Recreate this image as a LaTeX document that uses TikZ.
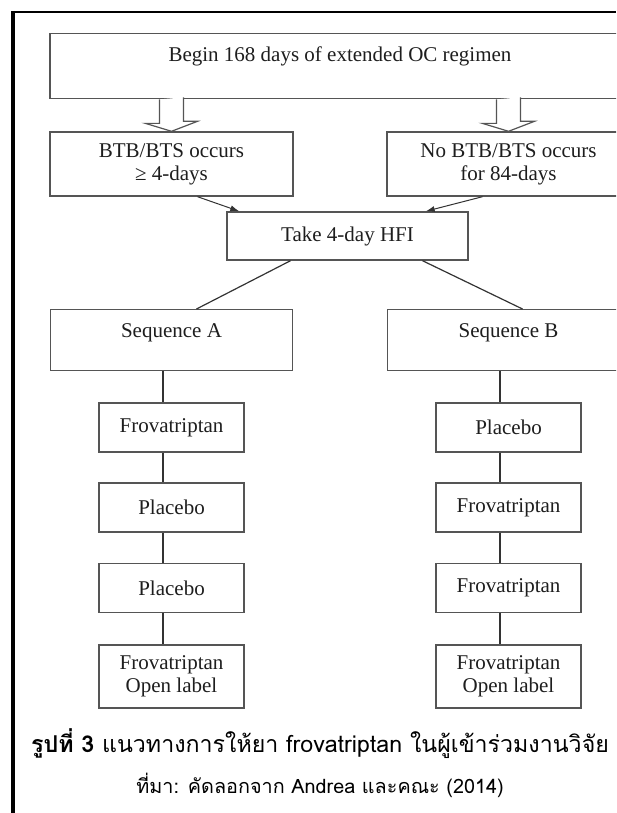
\documentclass[tikz,border=0pt]{standalone}
\usepackage{fontspec}
\setmainfont{Liberation Serif}
\newfontfamily\thaifont[Script=Thai]{Loma}
\usetikzlibrary{arrows.meta,calc}
\definecolor{boxstroke}{HTML}{555555}
\definecolor{boxtext}{HTML}{1E1E1E}
\definecolor{flowstroke}{HTML}{333333}
\definecolor{framestroke}{HTML}{000000}
\tikzset{
  stage/.style={
    rectangle,
    draw=boxstroke,
    fill=white,
    line width=1.4pt,
    inner sep=0pt,
    align=center,
    text=boxtext,
    font=\fontsize{21}{23}\selectfont
  },
  widestage/.style={
    stage,
    anchor=north,
    text height=28pt
  },
  drug/.style={
    stage,
    minimum width=145pt,
    minimum height=49pt
  },
  flow/.style={
    -{Latex[length=9pt,width=6pt]},
    draw=flowstroke,
    line width=1pt
  },
  link/.style={
    draw=flowstroke,
    line width=1.2pt
  },
  blockarrow/.style={
    draw=boxstroke,
    fill=white,
    line width=1.2pt
  },
  caption/.style={font=\thaifont\fontsize{23.2}{27}\selectfont},
  source/.style={font=\thaifont\fontsize{19.8}{23}\selectfont}
}

\begin{document}
\begin{tikzpicture}[x=1pt,y=-1pt]
  \useasboundingbox (0,0) rectangle (616,813);
  \clip (0,0) rectangle (616,813);

  % Page frame.
  \draw[framestroke,line width=4pt] (13,11) -- (13,813);
  \draw[framestroke,line width=2pt] (11,12.5) -- (616,12.5);

  \node[widestage,minimum width=580pt,text depth=37pt] (begin) at (340,33)
    {Begin 168 days of extended OC regimen};
  \node[stage,minimum width=243pt,minimum height=64pt] (btbA) at (171.5,164)
    {BTB/BTS occurs\\≥ 4-days};
  \node[stage,minimum width=243pt,minimum height=64pt] (btbB) at (508.5,164)
    {No BTB/BTS occurs\\for 84-days};
  \node[stage,minimum width=241pt,minimum height=48pt] (take) at (347.5,236)
    {Take 4-day HFI};
  \node[widestage,minimum width=242pt,text depth=33pt] (seqA) at (171.5,309)
    {Sequence A};
  \node[widestage,minimum width=242pt,text depth=33pt] (seqB) at (508.5,309)
    {Sequence B};

  \node[drug] (frovA1) at (171.5,427.5) {Frovatriptan};
  \node[drug] (placA2) at (171.5,507.5) {Placebo};
  \node[drug] (placA3) at (171.5,588) {Placebo};
  \node[drug,minimum height=63pt] (frovA4) at (171.5,676.5)
    {Frovatriptan\\Open label};
  \node[drug] (placB1) at (508.5,427.5) {Placebo};
  \node[drug] (frovB2) at (508.5,507.5) {Frovatriptan};
  \node[drug] (frovB3) at (508.5,588) {Frovatriptan};
  \node[drug,minimum height=63pt] (frovB4) at (508.5,676.5)
    {Frovatriptan\\Open label};

  % Hollow arrows out of the regimen box.
  \foreach \n in {btbA,btbB}
    \draw[blockarrow] ($(\n.north |- begin.south)+(-12,0)$) -- ++(0,24)
      -- ++(-14,0) -- (\n.north) -- ++(26,-10) -- ++(-14,0) -- ++(0,-24);

  \draw[flow] ($(btbA.south)+(26,0)$) -- ($(take.north west)+(13,0)$);
  \draw[flow] ($(btbB.south)+(-26,0)$) -- ($(take.north east)+(-43,0)$);
  \draw[link] ($(take.south)+(-57,0)$) -- ($(seqA.north)+(25,0)$);
  \draw[link] ($(take.south)+(75,0)$) -- ($(seqB.north)+(14,0)$);

  % Treatment sequences.
  \foreach \a/\b in {seqA/frovA1,frovA1/placA2,placA2/placA3,placA3/frovA4,
                     seqB/placB1,placB1/frovB2,frovB2/frovB3,frovB3/frovB4}
    \draw[link] ([xshift=-8.5pt]\a.south) -- ([xshift=-8.5pt]\b.north);

  \node[caption] (cap) at (320,744)
    {\textbf{รูปที่ 3} แนวทางการให้ยา frovatriptan ในผู้เข้าร่วมงานวิจัย};
  \node[source] (src) at (320,785)
    {ที่มา: คัดลอกจาก Andrea และคณะ (2014)};
\end{tikzpicture}
\end{document}
